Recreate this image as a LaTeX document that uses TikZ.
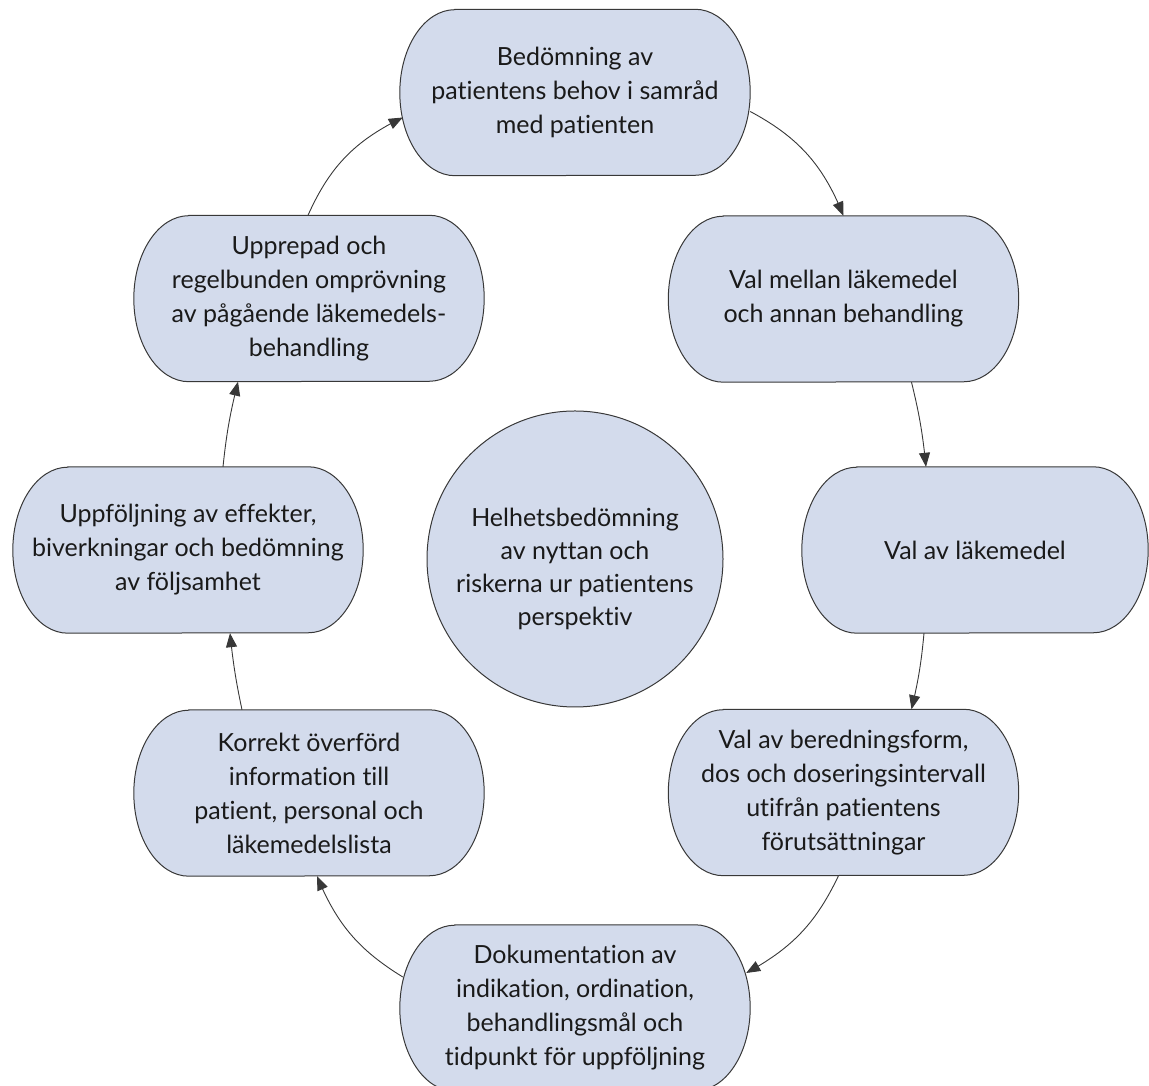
\documentclass[tikz,border=0pt]{standalone}
\usepackage{fontspec}
\setmainfont{Lato}[Ligatures=NoCommon]
\usetikzlibrary{arrows.meta,backgrounds,bending}
\definecolor{boxfill}{HTML}{D3DBEC}
\definecolor{boxline}{HTML}{383838}
\definecolor{txt}{HTML}{1A1A1A}
\newcommand\stadshape[1]{%
  \path[stadfill] ([xshift=55pt]#1.north west) -- ([xshift=-55pt]#1.north east)
    arc[start angle=90,end angle=-90,x radius=55pt,y radius=83pt]
    -- ([xshift=55pt]#1.south west)
    arc[start angle=270,end angle=90,x radius=55pt,y radius=83pt] -- cycle;}
\tikzset{
  stadnode/.style={rectangle,minimum width=350pt,minimum height=166pt,inner sep=0pt,
    align=center,text=txt,font=\fontsize{25pt}{34pt}\selectfont},
  stadfill/.style={fill=boxfill,draw=boxline,line width=1pt},
  circnode/.style={circle,minimum size=296pt,inner sep=0pt,fill=boxfill,draw=boxline,
    line width=1pt},
  circtext/.style={align=center,text=txt,inner sep=0pt,font=\fontsize{25pt}{33pt}\selectfont},
  conn/.style={draw=boxline,line width=0.9pt,-{Triangle[length=14pt,width=11pt]}}
}
\begin{document}
\begin{tikzpicture}[x=1pt,y=1pt]
\useasboundingbox (0,0) rectangle (1149,1086);
\node[stadnode] (top) at (575,993.5) {Bedömning av\\patientens behov i samråd\\med patienten};
\node[stadnode] (valm) at (843.5,787) {Val mellan läkemedel\\och annan behandling};
\node[stadnode,minimum width=346pt] (valav) at (975,536) {Val av läkemedel};
\node[stadnode] (bered) at (843.5,293.5) {Val av beredningsform,\\dos och doseringsintervall\\utifrån patientens\\förutsättningar};
\node[stadnode] (dok) at (575,78) {Dokumentation av\\indikation, ordination,\\behandlingsmål och\\tidpunkt för uppföljning};
\node[stadnode] (korr) at (309,293) {Korrekt överförd\\information till\\patient, personal och\\läkemedelslista};
\node[stadnode] (uppf) at (188,536) {Uppföljning av effekter,\\biverkningar och bedömning\\av följsamhet};
\node[stadnode] (uppr) at (309,787.5) {Upprepad och\\regelbunden omprövning\\av pågående läkemedels-\\behandling};
\node[circnode,label={[circtext,yshift=-10pt]center:{Helhetsbedömning\\av nyttan och\\riskerna ur patientens\\perspektiv}}] (circ) at (575,527) {};
\begin{scope}[on background layer]
\stadshape{top}\stadshape{valm}\stadshape{valav}\stadshape{bered}
\stadshape{dok}\stadshape{korr}\stadshape{uppf}\stadshape{uppr}
\end{scope}
\draw[conn] ([yshift=-19pt]top.east) to[bend left=20] (valm.north);
\draw[conn] ([xshift=68pt]valm.south) to[bend left=4] ([xshift=-49pt]valav.north);
\draw[conn] ([xshift=-51pt]valav.south) to[bend left=4] ([xshift=68pt]bered.north);
\draw[conn] ([xshift=-5pt]bered.south) to[bend left=18] ([xshift=-4pt,yshift=35pt]dok.east);
\draw[conn] ([xshift=3pt,yshift=31pt]dok.west) to[bend left=18] ([xshift=8pt]korr.south);
\draw[conn] ([xshift=-67pt]korr.north) to[bend left=3] ([xshift=42pt]uppf.south);
\draw[conn] ([xshift=35pt]uppf.north) to[bend left=4] ([xshift=-71pt]uppr.south);
\draw[conn] ([xshift=-1pt]uppr.north) to[bend left=20] ([xshift=3pt,yshift=-25pt]top.west);
\end{tikzpicture}
\end{document}
